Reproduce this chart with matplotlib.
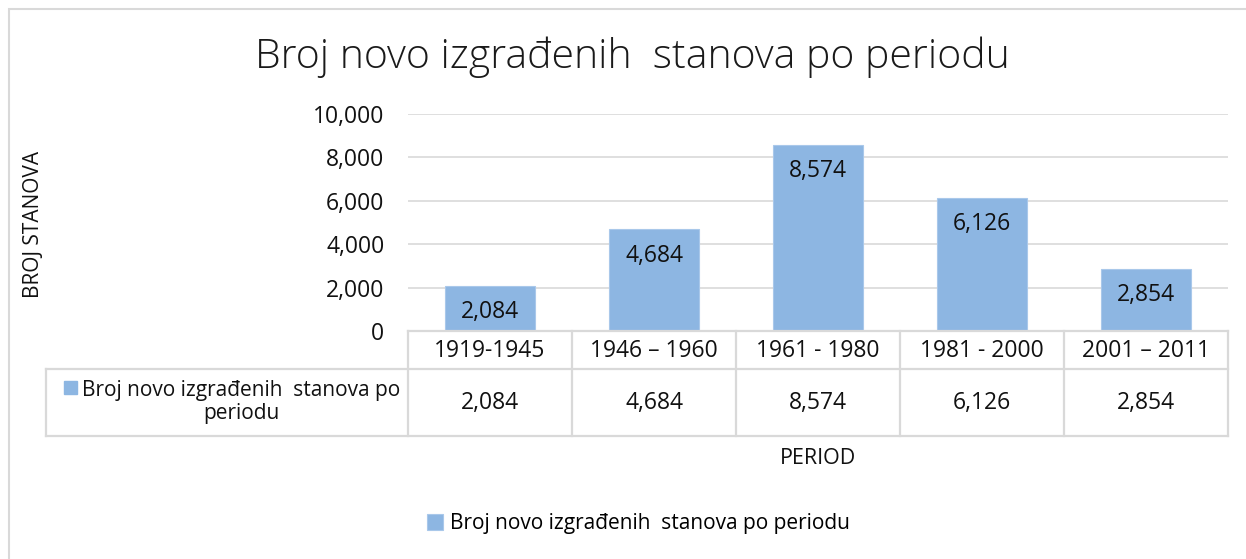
import matplotlib
matplotlib.use("Agg")
import matplotlib.pyplot as plt
from matplotlib.patches import Rectangle
from matplotlib.lines import Line2D
from matplotlib.transforms import blended_transform_factory

plt.rcParams["font.family"] = ["Open Sans", "DejaVu Sans"]

# data
periods = ["1919-1945", "1946 \u2013 1960", "1961 - 1980", "1981 - 2000", "2001 \u2013 2011"]
flats = [2084, 4684, 8574, 6126, 2854]
series_name = "Broj novo izgra\u0111enih  stanova po periodu"
y_ticks = [0, 2000, 4000, 6000, 8000, 10000]

BAR = "#8DB6E2"
GRID = "#D9D9D9"
TXT = "#111111"
W, H = 1246, 559


def fx(px):
    return px / W


def fy(py):
    return 1 - py / H


fig = plt.figure(figsize=(W / 100, H / 100), dpi=100)

# outer chart border (runs off right/bottom like the screenshot)
fig.add_artist(Rectangle((fx(9), fy(575)), fx(1260), fy(9) - fy(575),
                         transform=fig.transFigure, fill=False, edgecolor=GRID, lw=1.5))

ax = fig.add_axes([fx(408), fy(331), fx(1228) - fx(408), fy(114) - fy(331)])
x = range(len(periods))
bars = ax.bar(x, flats, width=0.55, color=BAR, edgecolor="#A9C8EA", lw=0.8,
              label=series_name, zorder=3)
for xi, v in zip(x, flats):
    ax.annotate(f"{v:,}", (xi, v), xytext=(0, -19), textcoords="offset points",
                ha="center", va="center", fontsize=16.5, color=TXT, zorder=4)

ax.set_xlim(-0.5, len(periods) - 0.5)
ax.set_ylim(0, 10000)
ax.set_yticks(y_ticks)
ax.set_yticklabels([f"{t:,}" for t in y_ticks], fontsize=16.5, color=TXT)
ax.tick_params(axis="y", length=0, pad=17)
ax.set_xticks([])
ax.grid(axis="y", color=GRID, lw=1.2, zorder=0)
for s in ax.spines.values():
    s.set_visible(False)

ax.set_ylabel("BROJ STANOVA", fontsize=15, color=TXT)
ax.yaxis.set_label_coords(fx(44), fy(224), transform=fig.transFigure)

fig.text(fx(632), fy(57), series_name, ha="center", va="center",
         fontsize=29.5, fontweight="light", color="#1a1a1a")

# data table below the axis
tr = blended_transform_factory(ax.transData, fig.transFigure)
n = len(periods)
lw_tab = 1.6
fig.add_artist(Line2D([-0.5, n - 0.5], [fy(331), fy(331)], color=GRID, lw=lw_tab, transform=tr))
for yy in (369, 436):
    fig.add_artist(Line2D([fx(46), fx(1228)], [fy(yy), fy(yy)], color=GRID, lw=lw_tab,
                          transform=fig.transFigure))
for i in range(n + 1):
    fig.add_artist(Line2D([i - 0.5, i - 0.5], [fy(331), fy(436)], color=GRID, lw=lw_tab,
                          transform=tr))
fig.add_artist(Line2D([fx(46), fx(46)], [fy(369), fy(436)], color=GRID, lw=lw_tab,
                      transform=fig.transFigure))

for i, (p, v) in enumerate(zip(periods, flats)):
    fig.text(i, fy(351), p, transform=tr, ha="center", va="center", fontsize=16.5, color=TXT)
    fig.text(i, fy(403), f"{v:,}", transform=tr, ha="center", va="center", fontsize=16.5,
             color=TXT)

fig.add_artist(Rectangle((fx(64), fy(394)), fx(13), fy(381) - fy(394), transform=fig.transFigure,
                         color=BAR))
fig.text(fx(241), fy(402), "Broj novo izgra\u0111enih  stanova po\nperiodu", ha="center",
         va="center", multialignment="center", fontsize=15, color=TXT, linespacing=1.15)

fig.text(fx(818), fy(458), "PERIOD", ha="center", va="center", fontsize=15.5, color=TXT)

fig.legend(handles=[bars], loc="center", bbox_to_anchor=(fx(638), fy(524)), frameon=False,
           fontsize=15, handlelength=0.8, handleheight=0.8, handletextpad=0.3)

fig.savefig("out.png", dpi=100)
